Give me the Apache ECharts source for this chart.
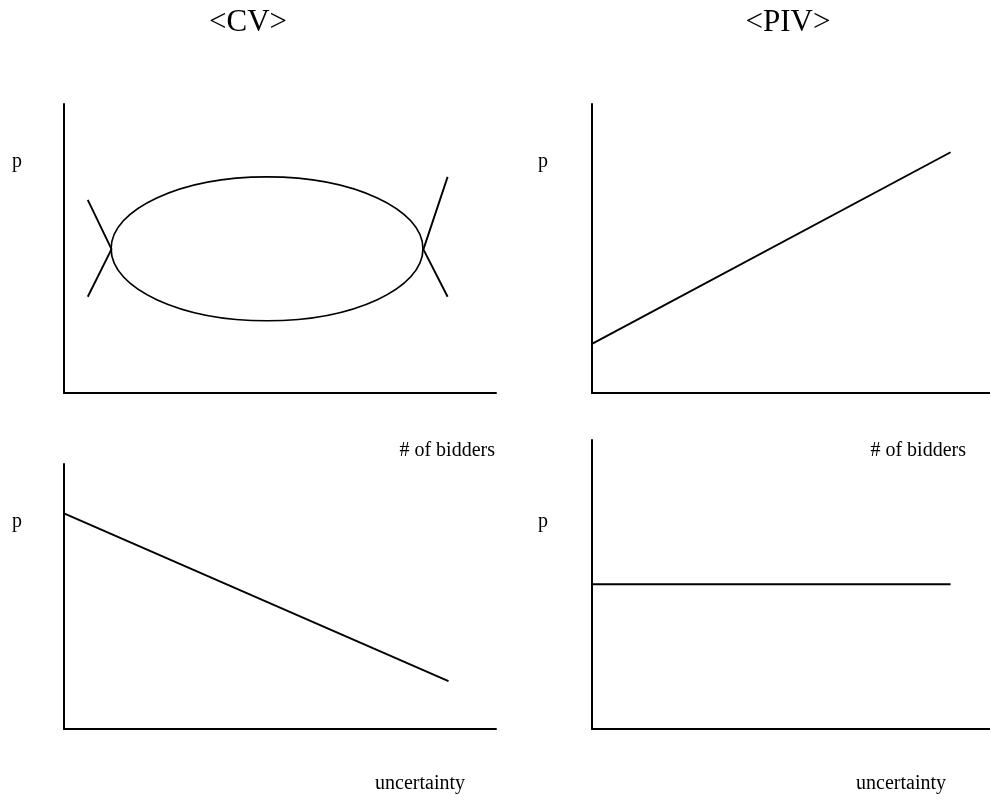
<!DOCTYPE html>
<html>
<head>
<meta charset="utf-8">
<script src="https://cdn.jsdelivr.net/npm/echarts@6/dist/echarts.min.js"></script>
<style>
  html, body { margin: 0; padding: 0; background: #fff; }
  #chart { width: 990px; height: 801px; }
</style>
</head>
<body>
<div id="chart"></div>
<script>
const titles = ['<CV>', '<PIV>']
const yName = 'p'
const xNames = ['# of bidders', 'uncertainty']

// CV: p vs # of bidders -> ellipse [cx, cy, rx, ry] and the two crossing strokes
const cvBiddersEllipse = [[4.70, 4.99, 3.61, 2.49]]
const cvBiddersLeft = [[0.55, 6.68], [1.10, 4.98], [0.55, 3.33]]
const cvBiddersRight = [[8.88, 7.48], [8.32, 4.97], [8.88, 3.33]]
// PIV: p vs # of bidders
const pivBidders = [[0, 1.70], [9.01, 8.33]]
// CV: p vs uncertainty
const cvUncertainty = [[0, 8.14], [8.90, 1.81]]
// PIV: p vs uncertainty
const pivUncertainty = [[0, 5.01], [9.01, 5.01]]

const font = 'Liberation Serif, Times New Roman, serif'

const grids = [
  { left: 64, top: 104, width: 432, height: 289 },
  { left: 592, top: 104, width: 400, height: 289 },
  { left: 64, top: 464, width: 432, height: 265 },
  { left: 592, top: 440, width: 400, height: 289 }
]

function axis(i) {
  return {
    type: 'value',
    gridIndex: i,
    min: 0,
    max: 10,
    axisLine: { show: true, onZero: false, lineStyle: { color: '#000', width: 2 } },
    axisTick: { show: false },
    axisLabel: { show: false },
    splitLine: { show: false }
  }
}

function line(i, data) {
  return {
    type: 'line',
    xAxisIndex: i,
    yAxisIndex: i,
    data: data,
    symbol: 'none',
    silent: true,
    lineStyle: { color: '#000', width: 1.9 }
  }
}

function label(text, x, y, align, size) {
  return {
    type: 'text',
    x: x,
    y: y,
    style: {
      text: text,
      font: (size || 20) + 'px ' + font,
      fill: '#000',
      textAlign: align || 'left',
      textVerticalAlign: 'middle'
    }
  }
}

const chart = echarts.init(document.getElementById('chart'))
chart.setOption({
  animation: false,
  backgroundColor: '#fff',
  grid: grids,
  xAxis: grids.map((g, i) => axis(i)),
  yAxis: grids.map((g, i) => axis(i)),
  series: [
    {
      type: 'custom',
      xAxisIndex: 0,
      yAxisIndex: 0,
      silent: true,
      data: cvBiddersEllipse,
      encode: { x: 0, y: 1 },
      renderItem(params, api) {
        const c = api.coord([api.value(0), api.value(1)])
        const s = api.size([api.value(2), api.value(3)])
        return {
          type: 'ellipse',
          shape: { cx: c[0], cy: c[1], rx: s[0], ry: s[1] },
          style: { fill: 'none', stroke: '#000', lineWidth: 1.7 }
        }
      }
    },
    line(0, cvBiddersLeft),
    line(0, cvBiddersRight),
    line(1, pivBidders),
    line(2, cvUncertainty),
    line(3, pivUncertainty)
  ],
  graphic: [
    label(titles[0], 248, 23, 'center', 31),
    label(titles[1], 788, 23, 'center', 31),
    label(yName, 12, 162),
    label(yName, 538, 162),
    label(yName, 12, 522),
    label(yName, 538, 522),
    label(xNames[0], 495, 451, 'right'),
    label(xNames[0], 966, 451, 'right'),
    label(xNames[1], 465, 784, 'right'),
    label(xNames[1], 946, 784, 'right')
  ]
})
</script>
</body>
</html>
